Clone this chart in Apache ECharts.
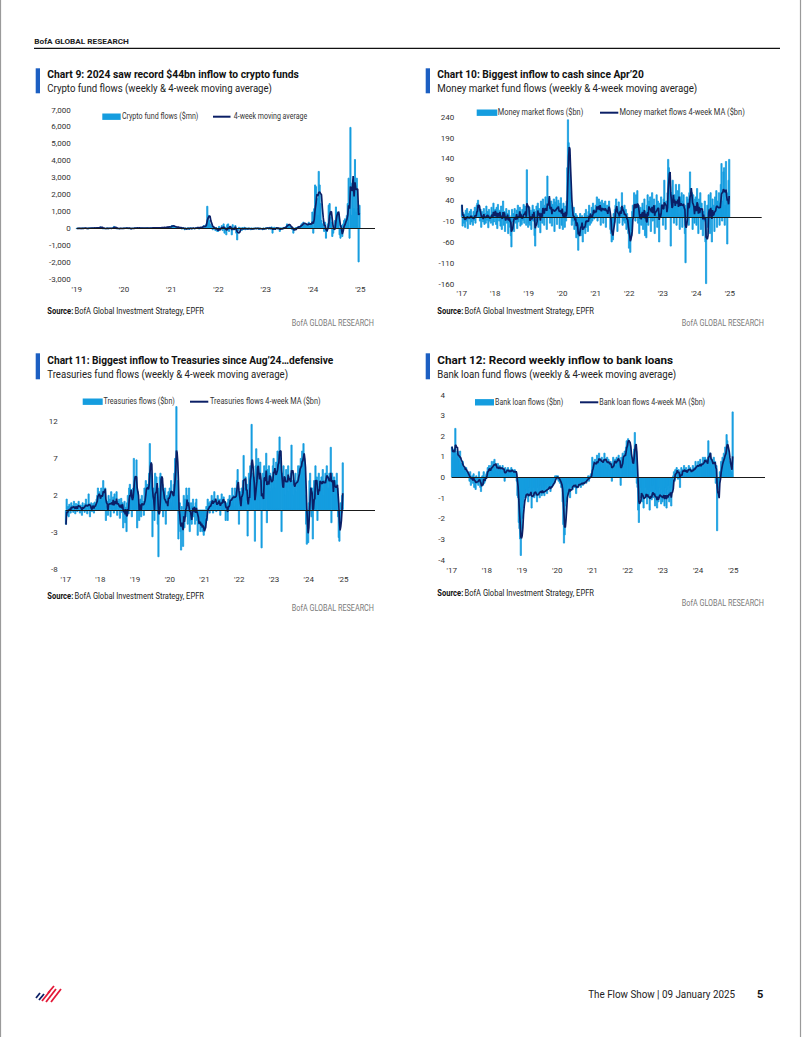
<!DOCTYPE html>
<html><head><meta charset="utf-8">
<script src="https://cdn.jsdelivr.net/npm/echarts@6/dist/echarts.min.js"></script>
<style>html,body{margin:0;padding:0;background:#fff}#c{width:802px;height:1037px}</style>
</head><body><div id="c"></div><script>
// ---------------- DATA (weekly flows) ----------------
// Chart 9: crypto fund flows ($mn), weekly from Jan 2019
const CRYPTO = [
 10,-5,15,20,5,-10,25,30,10,15, 20,5,-15,30,40,25,10,35,20,45, 30,15,40,55,20,80,120,60,30,-20, 25,10,-15,20,35,-10,15,20,5,30, 60,150,40,10,-20,15,5,-10,10,5,-5,15,
 20,30,15,40,25,-10,20,10,-30,15, 5,25,35,20,45,30,15,40,25,30, 20,35,10,25,15,30,45,20,10,25, 50,35,40,30,55,25,40,60,35,45, 30,55,70,40,60,80,50,90,100,70,120,60,
 150,200,180,100,60,120,80,50,90,40, 60,30,-50,70,40,-100,20,-60,50,30, -80,40,60,-40,20,30,-20,50,40,100, 60,-30,80,120,50,90,200,150,80,300, 1340,800,500,300,150,200,-100,100,50,-150,80,-200,
 -200,150,-100,50,200,-150,300,-300,100,-400, 250,300,-200,150,100,-400,250,-100,50,200, -300,-700,-150,100,-50,50,-150,80,-50,100, -100,30,-80,60,-40,20,-100,50,-60,30, -30,60,-50,20,40,-80,30,-20,10,-100,50,-30,
 50,-40,80,30,-60,100,-50,120,-300,60, 100,-80,40,80,-50,30,-200,60,20,40, -30,100,50,150,300,250,200,150,80,-60, 100,-300,-100,50,80,40,100,150,60,200, 300,250,400,300,250,150,200,300,400,150,250,200,
 1000,-300,1200,2600,2500,1800,800,3400,2600,1500, 500,300,200,-200,400,-600,-200,300,1400,1500, 700,400,-500,-300,200,500,1300,1000,800,900, -400,-600,200,-500,300,500,600,200,800,1500, 3000,-600,6000,800,2700,2900,1200,4100,1000,3000,1200,-2000,
 1400
];
// Chart 10: money market fund flows ($bn), weekly from Jan 2017
const MMF = [
 30,-22,12,-15,8,-25,18,-10,22,-28, 10,-5,15,-18,20,-12,5,-20,15,-8, 25,-15,8,30,35,42,10,28,-10,20, -25,15,5,-12,22,-18,10,-15,28,-8, 15,-26,20,-10,6,-15,25,12,-20,35,-12,18,
 20,-18,25,-28,32,12,-10,18,-22,28, -30,12,40,-20,15,-35,8,22,-15,10, -40,18,5,-25,-45,-72,20,-12,10,-35, 22,5,-15,18,-28,30,-12,15,25,-22, 10,-18,20,-8,32,-15,28,12,-20,115,30,-25,
 -15,25,-20,18,-30,12,30,-10,20,-45, -70,15,28,-12,35,-25,22,10,-38,40, 18,-15,45,25,-20,30,50,12,-30,100, 35,20,48,-15,28,40,-22,32,15,45, -35,38,22,50,-18,30,42,10,-28,35,48,-20,
 20,-30,35,15,-25,28,-10,40,120,235, 180,140,100,60,30,-20,15,-10,25,-30, -15,10,-50,5,-40,-80,-25,-35,10,-45, -20,5,-60,-15,-30,10,-40,20,-25,5, -35,15,30,-20,10,-15,25,-10,35,20,-5,10,
 30,15,50,-10,25,45,10,38,-20,30, 42,20,-15,35,25,40,-25,18,30,10, 22,40,5,-30,-40,-60,-20,-55,10,-15, 20,30,45,12,-35,20,38,-15,10,25, 15,60,-20,25,-10,30,-15,20,-30,10,-25,-40,
 -75,-30,-85,-20,-45,15,30,10,60,25, -10,55,20,65,-15,30,-40,15,25,-20, 10,35,-30,20,45,-45,15,-50,30,55, -20,40,10,50,-35,25,60,-10,20,45, -40,30,15,55,-25,40,20,-60,35,10,50,25,
 30,-20,45,90,15,-30,40,25,60,140, 120,100,75,-70,60,25,90,40,-15,55, 30,80,-20,45,65,10,80,-30,50,35, 60,-25,40,55,20,-40,-110,30,50,15, 45,-20,60,110,70,40,60,-30,55,20,-15,45,
 50,-20,70,25,-40,45,10,60,-30,35, 20,-45,15,-10,40,-60,-160,-20,30,-25, 55,15,-40,60,25,-60,45,10,30,-35, 50,20,65,-25,40,15,60,-20,35,80, 130,-10,40,110,120,-20,30,135,60,-65,40,90,
 140
];
// Chart 11: Treasuries fund flows ($bn), weekly from Jan 2017
const TSY = [
 -2,1.5,-0.8,0.5,-1,0.8,0.3,-0.5,1,0.2, 0.6,-0.4,1.2,0.3,-0.6,0.9,0.5,-0.3,0.8,1.2, 0.2,-0.5,0.7,0.4,-0.8,1.0,0.3,0.6,-0.4,0.9, 1.5,0.2,-0.6,0.8,2.2,0.5,-1.0,0.4,1.0,-0.3, 0.6,0.9,-0.5,1.1,0.3,0.8,1.5,2.0,3.0,1.2,2.5,0.8,
 1.5,3.0,2.0,1.0,4.0,2.5,1.8,3.0,-1.5,0.5, 1.2,-0.8,2.0,0.6,1.5,-1.0,2.5,0.8,0.3,1.8, -0.5,2.2,1.0,0.4,2.5,-0.8,1.2,0.2,1.5,-1.2, 0.8,1.6,-0.4,1.0,-2.5,0.6,1.2,-1.8,0.4,-3.0, 1.0,2.0,-0.6,3.0,3.5,1.5,2.8,-1.0,2.0,3.0,7.0,3.5,
 4.5,3.0,6.8,-2.5,2.5,1.0,-1.5,0.8,1.5,-1.0, 2.0,0.5,1.2,-0.8,3.0,1.8,4.0,2.5,3.5,2.0, 3.0,5.0,9.0,6.5,5.0,4.0,-3.7,2.0,3.0,-1.5, 5.0,2.0,4.5,3.0,-2.0,-6.4,3.0,4.5,5.0,4.0, 4.5,3.5,-1.0,2.5,1.0,3.0,-2.0,1.5,2.0,0.5,2.5,1.0,
 3.0,2.0,4.0,1.0,2.5,0.5,3.5,5.0,7.0,6.0, 14.0,4.0,2.0,-4.0,-1.5,1.0,-3.0,-5.5,0.5,-1.0, -5.0,2.0,-2.5,1.5,-1.0,3.0,2.0,-2.0,1.0,3.0, -3.0,-1.5,1.0,-2.0,0.5,1.5,-1.0,0.5,-2.0,1.0, 1.5,-1.5,-3.5,-0.5,-2.0,-1.0,-3.0,-2.5,-1.0,-3.0,-2.0,-3.5,
 -3.0,-2.0,-1.0,0.5,-1.5,1.5,0.0,1.0,-0.5,1.2, 0.8,2.0,1.0,-0.5,1.5,2.5,0.8,1.2,-0.3,1.0, 2.0,0.5,1.5,1.0,-0.8,1.5,2.2,0.6,1.0,1.8, 0.5,1.2,-1.5,0.8,1.0,-1.5,1.5,0.6,2.0,1.0, 1.5,0.8,3.0,1.2,2.0,0.5,3.0,1.5,2.5,4.0,5.5,3.0,
 -2.0,1.0,2.5,0.5,3.0,1.5,4.0,7.4,3.0,2.0, 4.5,1.0,3.5,-3.6,2.0,5.0,3.0,6.0,4.5,11.6, 5.0,3.0,4.5,2.0,-4.3,6.0,8.3,5.5,3.0,7.0, 4.0,2.5,6.5,3.5,-5.2,4.0,5.0,2.0,6.0,4.5, 3.0,7.7,-1.8,5.5,4.0,6.0,3.0,5.0,2.5,4.5,3.0,6.0,
 7.0,4.0,5.5,3.0,6.5,4.0,8.0,6.0,7.5,9.9, 8.0,6.5,-3.0,5.0,4.0,6.0,3.0,4.5,2.0,5.5, 3.5,4.0,6.0,2.5,4.5,3.0,5.0,8.8,4.0,3.5, 2.0,4.0,3.0,5.0,2.5,4.0,3.5,6.0,4.5,5.5, 6.0,7.0,5.0,8.0,6.5,9.0,7.0,5.0,2.0,-2.0,-4.7,-1.5,
 -4.5,1.0,4.0,5.0,2.0,-1.0,3.0,-4.0,2.5,4.0, 3.5,6.0,2.0,4.5,-1.5,3.0,5.0,3.5,4.0,2.5, 4.5,3.0,5.5,2.0,4.0,3.5,5.0,4.0,6.0,3.0, 4.5,3.0,5.0,3.5,8.5,-1.8,5.0,4.0,2.5,4.5, 2.0,4.0,1.5,5.0,3.0,-1.0,-3.8,-4.3,-2.0,1.0,-0.5,2.0,
 6.4
];
// Chart 12: bank loan fund flows ($bn), weekly from Jan 2017
const LOANS = [
 1.5,1.0,1.3,1.4,1.2,2.4,1.2,1.0,1.3,0.9, 1.1,0.8,1.3,0.6,0.7,0.5,0.8,0.3,0.5,0.4, 0.3,0.5,0.1,0.3,0.0,0.2,-0.2,0.3,-0.4,0.0, 0.1,-0.3,0.2,-0.5,0.0,-0.6,0.1,-0.3,-0.1,-0.4, 0.3,-0.2,-0.5,-0.7,-0.3,0.1,-0.4,0.3,-0.3,-0.2,0.1,0.2,
 0.3,0.5,0.2,0.6,0.4,0.1,0.6,0.8,0.5,0.3, 0.8,0.9,0.4,0.6,0.3,0.5,0.7,0.2,0.5,0.6, 0.4,0.3,0.5,0.6,0.2,0.4,-0.2,0.5,0.3,0.4, 0.2,0.5,0.3,0.1,0.4,0.3,0.5,0.2,0.4,0.1, 0.3,0.4,0.2,0.3,-0.2,-0.9,-1.0,-2.2,-2.5,-3.0,-3.8,-2.5,
 -2.0,-1.5,-1.2,-1.0,-0.8,-1.0,-0.6,-0.9,-0.7,-1.2, -0.8,-0.5,-0.9,-0.6,-1.5,-0.7,-0.8,-0.5,-1.0,-0.6, -0.7,-0.9,-1.2,-0.5,-0.8,-0.6,-1.0,-0.4,-0.7,-0.9, -0.5,-0.8,-0.6,-0.9,-0.4,-0.7,-0.5,-0.8,-0.3,-0.6, -0.5,-0.4,-0.7,-0.3,-0.5,-0.2,-0.4,-0.1,-0.3,0.1,0.0,0.1,
 -0.1,0.1,-0.2,0.0,-0.3,-0.2,-0.5,-0.4,-1.2,-2.3, -3.2,-2.8,-1.4,-0.8,-1.2,-0.5,-0.8,-0.3,-0.6,-1.0, -0.4,-0.5,-0.3,-0.6,-0.4,-0.2,-0.5,-0.3,-0.8,-0.4, -0.2,-0.5,-0.3,-0.4,-0.2,-0.5,-0.1,-0.3,-0.4,-0.2, -0.3,-0.1,-0.2,-0.3,0.0,-0.1,0.1,-0.2,0.0,0.1,0.2,0.0,
 1.0,0.5,0.8,0.6,0.9,0.4,0.7,1.1,0.6,0.8, 1.2,0.7,0.9,0.5,1.0,0.8,0.6,0.9,1.2,0.7, 0.8,0.5,1.0,0.6,0.9,0.4,0.7,0.8,0.6,-0.2, 0.7,1.0,0.8,0.5,0.9,0.6,1.0,0.7,0.9,1.1, 0.5,0.8,-0.4,1.0,0.9,1.2,0.8,1.0,1.3,1.1,1.5,1.8,
 1.7,1.9,1.8,1.6,1.5,1.2,0.3,0.8,0.6,1.0, 1.4,2.2,1.6,1.3,-0.3,-0.5,-1.6,-2.2,-0.8,-0.5, -1.0,-0.7,-1.2,-0.6,-1.5,-0.8,-1.0,-0.5,-0.9,-1.3, -0.6,-1.0,-0.8,-1.6,-0.7,-0.5,-1.1,-0.9,-0.4,-1.0, -0.8,-1.4,-0.6,-0.9,-1.5,-0.7,-1.2,-0.5,-1.0,-0.8,-1.3,-0.6,
 -1.2,-0.7,-0.9,-1.4,-0.5,-0.8,-1.5,-0.6,-1.0,-0.4, -1.2,-0.8,-0.5,-1.4,-0.3,-0.6,0.1,0.3,-0.2,0.4, 0.2,0.5,0.3,-0.1,0.4,0.2,-0.5,0.3,0.5,0.1, 0.4,0.2,0.6,0.3,0.0,0.5,0.2,0.4,0.3,0.6, 0.2,0.5,0.3,0.1,0.4,0.6,0.2,0.5,0.3,0.8,0.4,0.6,
 0.5,0.8,0.3,0.6,0.9,0.4,0.7,0.5,1.0,0.6, 0.8,1.0,0.6,0.9,0.5,0.7,1.8,1.0,0.8,1.2, 0.6,0.9,0.4,0.7,1.0,0.5,0.8,-0.3,0.6,-2.6, -0.6,-0.5,-0.3,0.3,0.2,0.8,0.5,1.0,0.7,1.2, 0.9,1.5,1.0,2.1,1.8,1.4,1.0,0.8,0.6,0.4,0.3,0.2,
 3.2
];
// Tick labels
const CRYPTO_YTICKS = [-3000,-2000,-1000,0,1000,2000,3000,4000,5000,6000,7000];
const MMF_YTICKS = [-160,-110,-60,-10,40,90,140,190,240];
const TSY_YTICKS = [-8,-3,2,7,12];
const LOANS_YTICKS = [-4,-3,-2,-1,0,1,2,3,4];
const YEAR_LABELS = {2017:"'17",2018:"'18",2019:"'19",2020:"'20",2021:"'21",2022:"'22",2023:"'23",2024:"'24",2025:"'25"};
const SERIES_NAMES = {
  crypto: ['Crypto fund flows ($mn)', '4-week moving average'],
  mmf: ['Money market flows ($bn)', 'Money market flows 4-week MA ($bn)'],
  tsy: ['Treasuries flows ($bn)', 'Treasuries flows 4-week MA ($bn)'],
  loans: ['Bank loan flows ($bn)', 'Bank loan flows 4-week MA ($bn)']
};

// ---------------- helpers ----------------
function weekly(vals, startYear, dayOffset) {
  return vals.map((v, i) => [startYear + (i * 7 + dayOffset) / 365.25, v]);
}
function movingAverage4(vals) {
  return vals.map((_, i) => {
    const s = vals.slice(Math.max(0, i - 3), i + 1);
    return s.reduce((a, b) => a + b, 0) / s.length;
  });
}
const mctx = document.createElement('canvas').getContext('2d');
function txt(text, x, y, o) {
  o = o || {};
  const size = o.size || 8.5, weight = o.weight || 'normal', family = o.family || 'Roboto';
  let sx = 1;
  if (o.w) { mctx.font = weight + ' ' + size + 'px ' + family; sx = o.w / mctx.measureText(text).width; }
  return { type: 'text', x: x, y: y, scaleX: sx, silent: true, z: 10,
    style: { text: text, fill: o.color || '#222', fontSize: size, fontWeight: weight, fontFamily: family,
             align: o.align || 'left', verticalAlign: 'middle' } };
}
function rect(x, y, w, h, fill) { return { type: 'rect', silent: true, shape: { x: x, y: y, width: w, height: h }, style: { fill: fill } }; }
function line(x1, y1, x2, y2, stroke, lw) { return { type: 'line', silent: true, shape: { x1: x1, y1: y1, x2: x2, y2: y2 }, style: { stroke: stroke, lineWidth: lw } }; }

const BAR = '#159ddf', MA = '#0b1f66', BLUEBAR = '#1c5fc2';
const AX_FONT = { fontFamily: 'Roboto', fontSize: 8, color: '#333' };

const panels = [
  { vals: CRYPTO, start: 2019, off: 1, grid: { left: 76.7, top: 110, width: 298.3, height: 169.3 },
    xmin: 2019, xmax: 2025.31, ymin: -3000, ymax: 7000, yint: 1000, yticks: CRYPTO_YTICKS, ymargin: 6, xmargin: 6.2,
    thousands: true, border: 0.9, names: SERIES_NAMES.crypto },
  { vals: MMF, start: 2017, off: 3, grid: { left: 461.7, top: 117.3, width: 300, height: 166.7 },
    xmin: 2017, xmax: 2025.95, ymin: -160, ymax: 240, yint: 10, yticks: MMF_YTICKS, ymargin: 7.4, xmargin: 5.5,
    border: 0.8, names: SERIES_NAMES.mmf },
  { vals: TSY, start: 2017, off: 3, grid: { left: 65.7, top: 406.2, width: 309.3, height: 162.8 },
    xmin: 2017, xmax: 2025.91, ymin: -8, ymax: 14, yint: 1, yticks: TSY_YTICKS, ymargin: 8, xmargin: 6,
    border: 0.8, names: SERIES_NAMES.tsy },
  { vals: LOANS, start: 2017, off: 3, grid: { left: 451.7, top: 395, width: 313.3, height: 165 },
    xmin: 2017, xmax: 2025.9, ymin: -4, ymax: 4, yint: 1, yticks: LOANS_YTICKS, ymargin: 6.7, xmargin: 6.5,
    border: 0.8, names: SERIES_NAMES.loans }
];

function fmtThousands(v) { const s = Math.abs(v).toString().replace(/\B(?=(\d{3})+(?!\d))/g, ','); return (v < 0 ? '-' : '') + s; }

const grids = [], xAxes = [], yAxes = [], series = [];
panels.forEach((p, k) => {
  grids.push(Object.assign({ containLabel: false, outerBoundsMode: 'none' }, p.grid));
  xAxes.push({ type: 'value', gridIndex: k, min: p.xmin, max: p.xmax, interval: 1,
    axisLine: { show: false }, axisTick: { show: false }, splitLine: { show: false },
    axisLabel: Object.assign({ margin: p.xmargin, showMaxLabel: false,
      formatter: v => (Number.isInteger(v) && YEAR_LABELS[v]) ? YEAR_LABELS[v] : '' }, AX_FONT) });
  yAxes.push({ type: 'value', gridIndex: k, min: p.ymin, max: p.ymax, interval: p.yint,
    axisLine: { show: false }, axisTick: { show: false }, splitLine: { show: false },
    axisLabel: Object.assign({ margin: p.ymargin,
      formatter: v => p.yticks.indexOf(Math.round(v)) >= 0 && Math.abs(v - Math.round(v)) < 1e-6 ? (p.thousands ? fmtThousands(Math.round(v)) : String(Math.round(v))) : '' }, AX_FONT) });
  const ma = movingAverage4(p.vals);
  series.push({ type: 'bar', name: p.names[0], xAxisIndex: k, yAxisIndex: k, data: weekly(p.vals, p.start, p.off),
    barWidth: 2, itemStyle: { color: BAR, borderColor: BAR, borderWidth: p.border }, silent: true, large: false, z: 2,
    markLine: { silent: true, symbol: ['none', 'none'], label: { show: false }, animation: false,
      lineStyle: { color: '#1a1a1a', width: 1, type: 'solid' }, data: [{ yAxis: 0 }] } });
  series.push({ type: 'line', name: p.names[1], xAxisIndex: k, yAxisIndex: k, data: weekly(ma, p.start, p.off),
    showSymbol: false, symbol: 'none', lineStyle: { color: MA, width: 1.7 }, silent: true, z: 4 });
});

// ---------------- page chrome ----------------
const G = [];
G.push(line(0.5, 0, 0.5, 1037, '#9a9a9a', 1.2), line(800.5, 0, 800.5, 1037, '#9a9a9a', 1.2));
G.push(txt('BofA GLOBAL RESEARCH', 34.3, 41.3, { size: 7.5, weight: 'bold', w: 94.7, color: '#222' }));
G.push(line(34, 48.3, 780, 48.3, '#111', 1.2));

const heads = [
  { x: 47.3, bx: 35.7, ty: 74.3, sy: 87.8, by: 68.3, bh: 25,
    t: 'Chart 9: 2024 saw record $44bn inflow to crypto funds', tw: 252,
    s: 'Crypto fund flows (weekly & 4-week moving average)', sw: 225,
    ly: 116.7, r0: 102.3, r1: 120.7, t0: 121.9, l0: 213, l1: 230.5, t1: 233.8, w0: 76.5, w1: 73.5, names: SERIES_NAMES.crypto,
    srcY: 311.6, resY: 323.3, resX: 374 },
  { x: 437.3, bx: 425.7, ty: 74.3, sy: 87.8, by: 68.3, bh: 25,
    t: 'Chart 10: Biggest inflow to cash since Apr\u201920', tw: 206.7,
    s: 'Money market fund flows (weekly & 4-week moving average)', sw: 260.4,
    ly: 112.7, r0: 476.7, r1: 497.3, t0: 497.8, l0: 600, l1: 618.3, t1: 619.5, w0: 85.5, w1: 125.5, names: SERIES_NAMES.mmf,
    srcY: 311.6, resY: 323.3, resX: 764 },
  { x: 47.3, bx: 35.7, ty: 360.5, sy: 373.8, by: 353.3, bh: 26,
    t: 'Chart 11: Biggest inflow to Treasuries since Aug\u201924\u2026defensive', tw: 286.7,
    s: 'Treasuries fund flows (weekly & 4-week moving average)', sw: 241,
    ly: 401.7, r0: 82.7, r1: 102.7, t0: 103.4, l0: 190, l1: 208.3, t1: 210, w0: 71.5, w1: 110.7, names: SERIES_NAMES.tsy,
    srcY: 596.7, resY: 608.3, resX: 374 },
  { x: 437.3, bx: 425.7, ty: 360.5, sy: 373.8, by: 353.3, bh: 26,
    t: 'Chart 12: Record weekly inflow to bank loans', tw: 236,
    s: 'Bank loan fund flows (weekly & 4-week moving average)', sw: 239.4,
    ly: 402.3, r0: 475, r1: 494, t0: 495, l0: 580, l1: 598.3, t1: 599.2, w0: 68.3, w1: 106, names: SERIES_NAMES.loans,
    srcY: 593.3, resY: 603.3, resX: 764 }
];
heads.forEach(h => {
  G.push(rect(h.bx, h.by, 4.3, h.bh, BLUEBAR));
  G.push(txt(h.t, h.x, h.ty, { size: 11.5, weight: 'bold', w: h.tw, color: '#111' }));
  G.push(txt(h.s, h.x, h.sy, { size: 11.5, w: h.sw, color: '#222' }));
  G.push(rect(h.r0, h.ly - 3.2, h.r1 - h.r0, 6.4, BAR));
  G.push(txt(h.names[0], h.t0, h.ly, { size: 8.3, w: h.w0, color: '#333' }));
  G.push(line(h.l0, h.ly, h.l1, h.ly, MA, 2));
  G.push(txt(h.names[1], h.t1, h.ly, { size: 8.3, w: h.w1, color: '#333' }));
  G.push(txt('Source:', h.x, h.srcY, { size: 8.3, weight: 'bold', w: 26, color: '#111' }));
  G.push(txt('BofA Global Investment Strategy, EPFR', h.x + 27.2, h.srcY, { size: 8.3, w: 129.5, color: '#222' }));
  G.push(txt('BofA GLOBAL RESEARCH', h.resX, h.resY, { size: 8.3, w: 82.3, color: '#7a7a7a', align: 'right' }));
});

// footer
G.push(txt('The Flow Show | 09 January 2025', 735, 994.5, { size: 11, w: 147, color: '#222', align: 'right' }));
G.push(txt('5', 757, 994.5, { size: 11, weight: 'bold', color: '#111' }));
// BofA flag logo (stylised strokes)
[[36, 998, 40, 993], [39, 1000, 44, 994]].forEach(s => G.push(line(s[0], s[1], s[2], s[3], '#0b1f66', 1.8)));
[[42, 1001, 50, 991], [46, 1002, 56, 989], [51, 1002, 61, 989], [48, 993, 54, 986]].forEach(s => G.push(line(s[0], s[1], s[2], s[3], '#e31837', 1.8)));

const chart = echarts.init(document.getElementById('c'), null, { renderer: 'svg', width: 802, height: 1037 });
chart.setOption({
  animation: false,
  backgroundColor: '#ffffff',
  grid: grids, xAxis: xAxes, yAxis: yAxes, series: series,
  graphic: { elements: G }
});
</script></body></html>
